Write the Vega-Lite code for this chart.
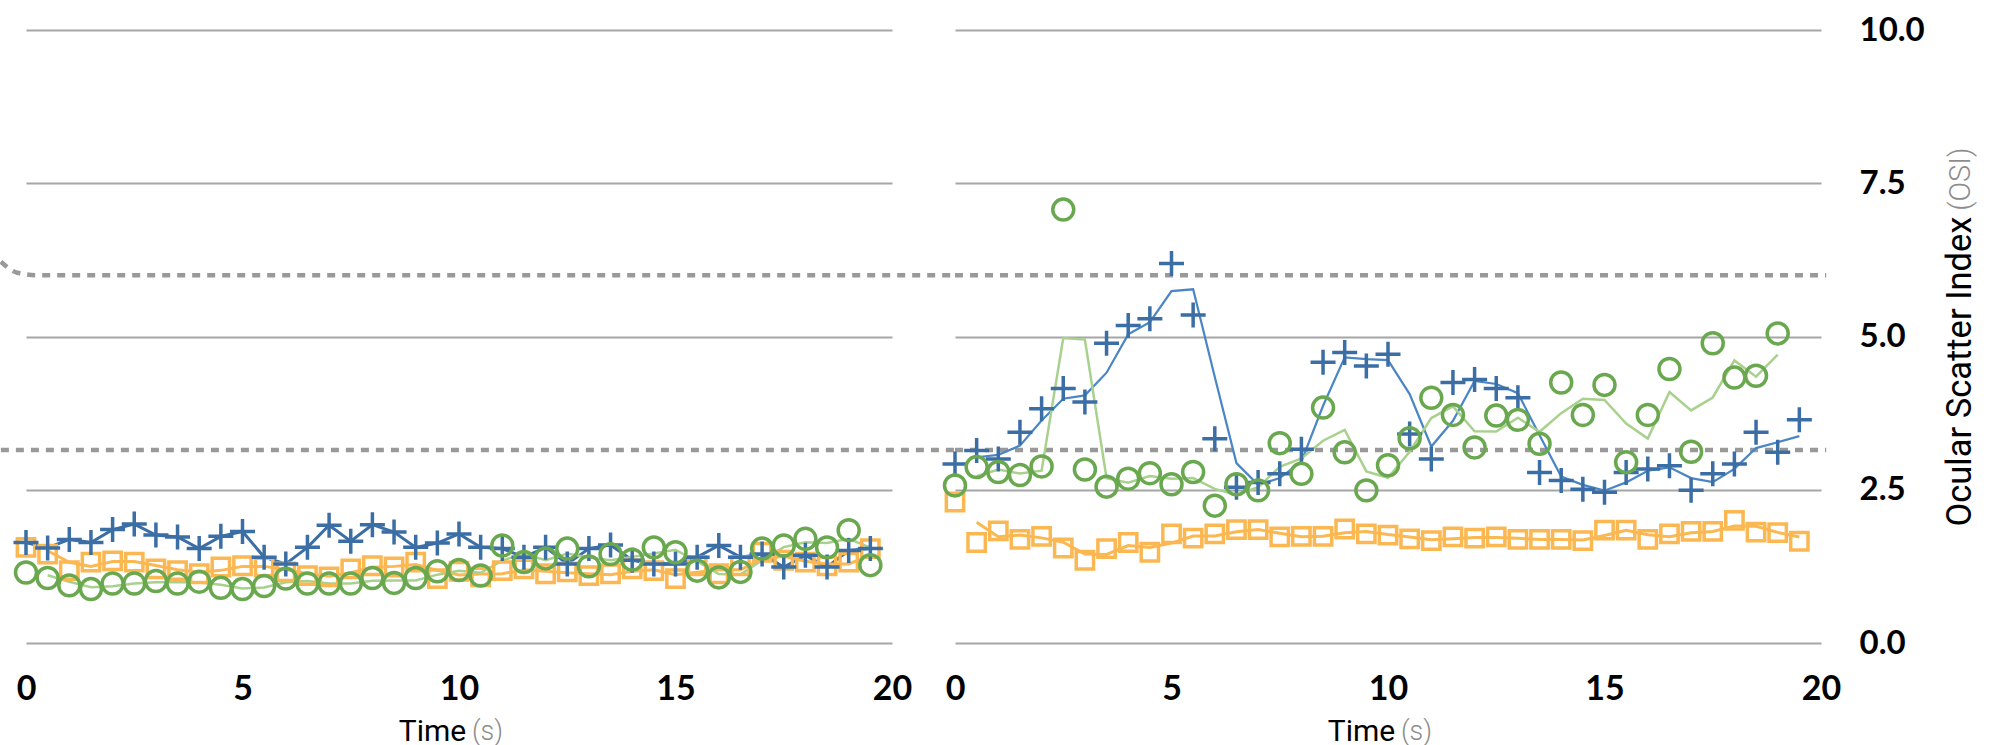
{
  "$schema": "https://vega.github.io/schema/vega-lite/v6.json",
  "autosize": {"type": "pad"},
  "padding": {"left": -9, "top": 14, "right": 0, "bottom": 0},
  "bounds": "flush",
  "spacing": 63,
  "background": "#ffffff",
  "config": {"view": {"stroke": null}},
  "datasets": {
    "ref": [
      {"p": "L", "level": "hi", "t": -0.58, "v": 6.22},
      {"p": "L", "level": "hi", "t": -0.2, "v": 6.04},
      {"p": "L", "level": "hi", "t": 0.25, "v": 6.0},
      {"p": "L", "level": "hi", "t": 21.45, "v": 6.0},
      {"p": "L", "level": "lo", "t": -0.58, "v": 3.15},
      {"p": "L", "level": "lo", "t": 21.45, "v": 3.15},
      {"p": "R", "level": "hi", "t": 0, "v": 6.0},
      {"p": "R", "level": "hi", "t": 20.12, "v": 6.0},
      {"p": "R", "level": "lo", "t": 0, "v": 3.15},
      {"p": "R", "level": "lo", "t": 20.12, "v": 3.15}
    ],
    "notes": [
      {"p": "L", "u": "(s)"},
      {"p": "R", "u": "(s)"}
    ],
    "pts": [
      {"p":"L","s":"square","t":0,"v":1.56},{"p":"L","s":"square","t":0.5,"v":1.45},{"p":"L","s":"square","t":1,"v":1.18},{"p":"L","s":"square","t":1.5,"v":1.32},{"p":"L","s":"square","t":2,"v":1.34},{"p":"L","s":"square","t":2.5,"v":1.32},{"p":"L","s":"square","t":3,"v":1.21},{"p":"L","s":"square","t":3.5,"v":1.18},{"p":"L","s":"square","t":4,"v":1.13},{"p":"L","s":"square","t":4.5,"v":1.24},
      {"p":"L","s":"square","t":5,"v":1.26},{"p":"L","s":"square","t":5.5,"v":1.24},{"p":"L","s":"square","t":6,"v":1.16},{"p":"L","s":"square","t":6.5,"v":1.10},{"p":"L","s":"square","t":7,"v":1.08},{"p":"L","s":"square","t":7.5,"v":1.21},{"p":"L","s":"square","t":8,"v":1.26},{"p":"L","s":"square","t":8.5,"v":1.24},{"p":"L","s":"square","t":9,"v":1.32},{"p":"L","s":"square","t":9.5,"v":1.05},
      {"p":"L","s":"square","t":10,"v":1.17},{"p":"L","s":"square","t":10.5,"v":1.08},{"p":"L","s":"square","t":11,"v":1.18},{"p":"L","s":"square","t":11.5,"v":1.21},{"p":"L","s":"square","t":12,"v":1.13},{"p":"L","s":"square","t":12.5,"v":1.16},{"p":"L","s":"square","t":13,"v":1.10},{"p":"L","s":"square","t":13.5,"v":1.13},{"p":"L","s":"square","t":14,"v":1.21},{"p":"L","s":"square","t":14.5,"v":1.18},
      {"p":"L","s":"square","t":15,"v":1.05},{"p":"L","s":"square","t":15.5,"v":1.26},{"p":"L","s":"square","t":16,"v":1.13},{"p":"L","s":"square","t":16.5,"v":1.26},{"p":"L","s":"square","t":17,"v":1.48},{"p":"L","s":"square","t":17.5,"v":1.35},{"p":"L","s":"square","t":18,"v":1.32},{"p":"L","s":"square","t":18.5,"v":1.26},{"p":"L","s":"square","t":19,"v":1.32},{"p":"L","s":"square","t":19.5,"v":1.54},

      {"p":"R","s":"square","t":0,"v":2.30},{"p":"R","s":"square","t":0.5,"v":1.64},{"p":"R","s":"square","t":1,"v":1.83},{"p":"R","s":"square","t":1.5,"v":1.69},{"p":"R","s":"square","t":2,"v":1.74},{"p":"R","s":"square","t":2.5,"v":1.55},{"p":"R","s":"square","t":3,"v":1.35},{"p":"R","s":"square","t":3.5,"v":1.54},{"p":"R","s":"square","t":4,"v":1.64},{"p":"R","s":"square","t":4.5,"v":1.48},
      {"p":"R","s":"square","t":5,"v":1.78},{"p":"R","s":"square","t":5.5,"v":1.71},{"p":"R","s":"square","t":6,"v":1.78},{"p":"R","s":"square","t":6.5,"v":1.85},{"p":"R","s":"square","t":7,"v":1.85},{"p":"R","s":"square","t":7.5,"v":1.73},{"p":"R","s":"square","t":8,"v":1.74},{"p":"R","s":"square","t":8.5,"v":1.74},{"p":"R","s":"square","t":9,"v":1.86},{"p":"R","s":"square","t":9.5,"v":1.78},
      {"p":"R","s":"square","t":10,"v":1.76},{"p":"R","s":"square","t":10.5,"v":1.70},{"p":"R","s":"square","t":11,"v":1.67},{"p":"R","s":"square","t":11.5,"v":1.73},{"p":"R","s":"square","t":12,"v":1.71},{"p":"R","s":"square","t":12.5,"v":1.73},{"p":"R","s":"square","t":13,"v":1.69},{"p":"R","s":"square","t":13.5,"v":1.69},{"p":"R","s":"square","t":14,"v":1.69},{"p":"R","s":"square","t":14.5,"v":1.67},
      {"p":"R","s":"square","t":15,"v":1.84},{"p":"R","s":"square","t":15.5,"v":1.84},{"p":"R","s":"square","t":16,"v":1.69},{"p":"R","s":"square","t":16.5,"v":1.78},{"p":"R","s":"square","t":17,"v":1.82},{"p":"R","s":"square","t":17.5,"v":1.82},{"p":"R","s":"square","t":18,"v":2.00},{"p":"R","s":"square","t":18.5,"v":1.81},{"p":"R","s":"square","t":19,"v":1.80},{"p":"R","s":"square","t":19.5,"v":1.66},

      {"p":"L","s":"cross","t":0,"v":1.64},{"p":"L","s":"cross","t":0.5,"v":1.55},{"p":"L","s":"cross","t":1,"v":1.69},{"p":"L","s":"cross","t":1.5,"v":1.64},{"p":"L","s":"cross","t":2,"v":1.85},{"p":"L","s":"cross","t":2.5,"v":1.94},{"p":"L","s":"cross","t":3,"v":1.76},{"p":"L","s":"cross","t":3.5,"v":1.73},{"p":"L","s":"cross","t":4,"v":1.54},{"p":"L","s":"cross","t":4.5,"v":1.74},
      {"p":"L","s":"cross","t":5,"v":1.82},{"p":"L","s":"cross","t":5.5,"v":1.40},{"p":"L","s":"cross","t":6,"v":1.29},{"p":"L","s":"cross","t":6.5,"v":1.56},{"p":"L","s":"cross","t":7,"v":1.92},{"p":"L","s":"cross","t":7.5,"v":1.66},{"p":"L","s":"cross","t":8,"v":1.93},{"p":"L","s":"cross","t":8.5,"v":1.81},{"p":"L","s":"cross","t":9,"v":1.56},{"p":"L","s":"cross","t":9.5,"v":1.63},
      {"p":"L","s":"cross","t":10,"v":1.78},{"p":"L","s":"cross","t":10.5,"v":1.56},{"p":"L","s":"cross","t":11,"v":1.54},{"p":"L","s":"cross","t":11.5,"v":1.40},{"p":"L","s":"cross","t":12,"v":1.56},{"p":"L","s":"cross","t":12.5,"v":1.29},{"p":"L","s":"cross","t":13,"v":1.54},{"p":"L","s":"cross","t":13.5,"v":1.60},{"p":"L","s":"cross","t":14,"v":1.35},{"p":"L","s":"cross","t":14.5,"v":1.29},
      {"p":"L","s":"cross","t":15,"v":1.29},{"p":"L","s":"cross","t":15.5,"v":1.40},{"p":"L","s":"cross","t":16,"v":1.59},{"p":"L","s":"cross","t":16.5,"v":1.40},{"p":"L","s":"cross","t":17,"v":1.45},{"p":"L","s":"cross","t":17.5,"v":1.24},{"p":"L","s":"cross","t":18,"v":1.43},{"p":"L","s":"cross","t":18.5,"v":1.24},{"p":"L","s":"cross","t":19,"v":1.51},{"p":"L","s":"cross","t":19.5,"v":1.54},

      {"p":"R","s":"cross","t":0,"v":2.92},{"p":"R","s":"cross","t":0.5,"v":3.14},{"p":"R","s":"cross","t":1,"v":3.00},{"p":"R","s":"cross","t":1.5,"v":3.44},{"p":"R","s":"cross","t":2,"v":3.82},{"p":"R","s":"cross","t":2.5,"v":4.15},{"p":"R","s":"cross","t":3,"v":3.93},{"p":"R","s":"cross","t":3.5,"v":4.89},{"p":"R","s":"cross","t":4,"v":5.18},{"p":"R","s":"cross","t":4.5,"v":5.29},
      {"p":"R","s":"cross","t":5,"v":6.19},{"p":"R","s":"cross","t":5.5,"v":5.35},{"p":"R","s":"cross","t":6,"v":3.33},{"p":"R","s":"cross","t":6.5,"v":2.54},{"p":"R","s":"cross","t":7,"v":2.62},{"p":"R","s":"cross","t":7.5,"v":2.76},{"p":"R","s":"cross","t":8,"v":3.16},{"p":"R","s":"cross","t":8.5,"v":4.58},{"p":"R","s":"cross","t":9,"v":4.74},{"p":"R","s":"cross","t":9.5,"v":4.52},
      {"p":"R","s":"cross","t":10,"v":4.71},{"p":"R","s":"cross","t":10.5,"v":3.41},{"p":"R","s":"cross","t":11,"v":3.00},{"p":"R","s":"cross","t":11.5,"v":4.25},{"p":"R","s":"cross","t":12,"v":4.30},{"p":"R","s":"cross","t":12.5,"v":4.15},{"p":"R","s":"cross","t":13,"v":4.00},{"p":"R","s":"cross","t":13.5,"v":2.78},{"p":"R","s":"cross","t":14,"v":2.65},{"p":"R","s":"cross","t":14.5,"v":2.51},
      {"p":"R","s":"cross","t":15,"v":2.46},{"p":"R","s":"cross","t":15.5,"v":2.78},{"p":"R","s":"cross","t":16,"v":2.84},{"p":"R","s":"cross","t":16.5,"v":2.89},{"p":"R","s":"cross","t":17,"v":2.49},{"p":"R","s":"cross","t":17.5,"v":2.76},{"p":"R","s":"cross","t":18,"v":2.92},{"p":"R","s":"cross","t":18.5,"v":3.44},{"p":"R","s":"cross","t":19,"v":3.11},{"p":"R","s":"cross","t":19.5,"v":3.64},

      {"p":"L","s":"circle","t":0,"v":1.15},{"p":"L","s":"circle","t":0.5,"v":1.06},{"p":"L","s":"circle","t":1,"v":0.94},{"p":"L","s":"circle","t":1.5,"v":0.88},{"p":"L","s":"circle","t":2,"v":0.97},{"p":"L","s":"circle","t":2.5,"v":0.97},{"p":"L","s":"circle","t":3,"v":1.01},{"p":"L","s":"circle","t":3.5,"v":0.97},{"p":"L","s":"circle","t":4,"v":1.00},{"p":"L","s":"circle","t":4.5,"v":0.90},
      {"p":"L","s":"circle","t":5,"v":0.88},{"p":"L","s":"circle","t":5.5,"v":0.93},{"p":"L","s":"circle","t":6,"v":1.05},{"p":"L","s":"circle","t":6.5,"v":0.97},{"p":"L","s":"circle","t":7,"v":0.97},{"p":"L","s":"circle","t":7.5,"v":0.97},{"p":"L","s":"circle","t":8,"v":1.06},{"p":"L","s":"circle","t":8.5,"v":0.98},{"p":"L","s":"circle","t":9,"v":1.06},{"p":"L","s":"circle","t":9.5,"v":1.17},
      {"p":"L","s":"circle","t":10,"v":1.19},{"p":"L","s":"circle","t":10.5,"v":1.10},{"p":"L","s":"circle","t":11,"v":1.59},{"p":"L","s":"circle","t":11.5,"v":1.32},{"p":"L","s":"circle","t":12,"v":1.38},{"p":"L","s":"circle","t":12.5,"v":1.54},{"p":"L","s":"circle","t":13,"v":1.25},{"p":"L","s":"circle","t":13.5,"v":1.45},{"p":"L","s":"circle","t":14,"v":1.36},{"p":"L","s":"circle","t":14.5,"v":1.56},
      {"p":"L","s":"circle","t":15,"v":1.48},{"p":"L","s":"circle","t":15.5,"v":1.18},{"p":"L","s":"circle","t":16,"v":1.07},{"p":"L","s":"circle","t":16.5,"v":1.16},{"p":"L","s":"circle","t":17,"v":1.54},{"p":"L","s":"circle","t":17.5,"v":1.59},{"p":"L","s":"circle","t":18,"v":1.70},{"p":"L","s":"circle","t":18.5,"v":1.56},{"p":"L","s":"circle","t":19,"v":1.84},{"p":"L","s":"circle","t":19.5,"v":1.27},

      {"p":"R","s":"circle","t":0,"v":2.57},{"p":"R","s":"circle","t":0.5,"v":2.87},{"p":"R","s":"circle","t":1,"v":2.79},{"p":"R","s":"circle","t":1.5,"v":2.74},{"p":"R","s":"circle","t":2,"v":2.88},{"p":"R","s":"circle","t":2.5,"v":7.07},{"p":"R","s":"circle","t":3,"v":2.83},{"p":"R","s":"circle","t":3.5,"v":2.55},{"p":"R","s":"circle","t":4,"v":2.68},{"p":"R","s":"circle","t":4.5,"v":2.77},
      {"p":"R","s":"circle","t":5,"v":2.59},{"p":"R","s":"circle","t":5.5,"v":2.79},{"p":"R","s":"circle","t":6,"v":2.24},{"p":"R","s":"circle","t":6.5,"v":2.59},{"p":"R","s":"circle","t":7,"v":2.49},{"p":"R","s":"circle","t":7.5,"v":3.26},{"p":"R","s":"circle","t":8,"v":2.76},{"p":"R","s":"circle","t":8.5,"v":3.84},{"p":"R","s":"circle","t":9,"v":3.11},{"p":"R","s":"circle","t":9.5,"v":2.49},
      {"p":"R","s":"circle","t":10,"v":2.90},{"p":"R","s":"circle","t":10.5,"v":3.34},{"p":"R","s":"circle","t":11,"v":4.00},{"p":"R","s":"circle","t":11.5,"v":3.72},{"p":"R","s":"circle","t":12,"v":3.19},{"p":"R","s":"circle","t":12.5,"v":3.71},{"p":"R","s":"circle","t":13,"v":3.64},{"p":"R","s":"circle","t":13.5,"v":3.25},{"p":"R","s":"circle","t":14,"v":4.25},{"p":"R","s":"circle","t":14.5,"v":3.72},
      {"p":"R","s":"circle","t":15,"v":4.21},{"p":"R","s":"circle","t":15.5,"v":2.95},{"p":"R","s":"circle","t":16,"v":3.72},{"p":"R","s":"circle","t":16.5,"v":4.47},{"p":"R","s":"circle","t":17,"v":3.12},{"p":"R","s":"circle","t":17.5,"v":4.89},{"p":"R","s":"circle","t":18,"v":4.33},{"p":"R","s":"circle","t":18.5,"v":4.36},{"p":"R","s":"circle","t":19,"v":5.05}
    ]
  },
  "hconcat": [
    {
      "width": 866,
      "height": 613,
      "layer": [
        {
          "encoding": {
            "x": {"field": "t", "type": "quantitative", "scale": {"domain": [0, 20], "nice": false, "zero": false},
              "axis": {"values": [0, 5, 10, 15, 20], "domain": false, "ticks": false, "grid": false, "labelFlush": false, "labelOverlap": false,
                "labelFont": "Lato", "labelFontWeight": "bold", "labelFontSize": 34, "labelColor": "#000000", "labelPadding": 29,
                "title": "Time", "titleFont": "Roboto", "titleFontWeight": "normal", "titleFontSize": 30, "titleColor": "#000000",
                "titleX": 406, "titleY": 97, "titleBaseline": "alphabetic", "titleAlign": "center", "titleAnchor": null}},
            "y": {"field": "v", "type": "quantitative", "scale": {"domain": [0, 10], "nice": false},
              "axis": {"values": [0, 2.5, 5, 7.5, 10], "labels": false, "ticks": false, "domain": false, "grid": true, "gridColor": "#a6a6a6", "gridWidth": 2, "title": null}}
          },
          "layer": [
            {"data": {"name": "ref"}, "transform": [{"filter": "datum.p == 'L'"}],
             "mark": {"type": "line", "interpolate": "monotone", "strokeDash": [8, 7], "strokeWidth": 4.5, "color": "#999999"},
             "encoding": {"detail": {"field": "level"}}},
            {"data": {"name": "pts"}, "transform": [{"filter": "datum.p == 'L' && datum.s == 'cross'"}],
             "mark": {"type": "line", "color": "#3b6ea5", "strokeWidth": 3},
             "encoding": {}},
            {"data": {"name": "pts"}, "transform": [
                {"filter": "datum.p == 'L' && datum.s != 'cross'"},
                {"window": [{"op": "mean", "field": "v", "as": "ma"}, {"op": "row_number", "as": "rn"}], "frame": [-1, 0], "groupby": ["s"], "sort": [{"field": "t"}]},
                {"filter": "datum.rn > 1"}],
             "mark": {"type": "line"},
             "encoding": {
               "y": {"field": "ma", "type": "quantitative"},
               "stroke": {"field": "s", "type": "nominal", "scale": {"type": "ordinal", "domain": ["square", "cross", "circle"], "range": ["#fbb751", "#4a85c5", "#a9d18e"]}, "legend": null},
               "strokeWidth": {"field": "s", "type": "nominal", "scale": {"type": "ordinal", "domain": ["square", "cross", "circle"], "range": [3, 2.2, 2.5]}, "legend": null}}},
            {"data": {"name": "pts"}, "transform": [{"filter": "datum.p == 'L'"}],
             "mark": {"type": "point", "filled": false, "strokeWidth": 3.5, "opacity": 1},
             "encoding": {
               "color": {"field": "s", "type": "nominal", "scale": {"type": "ordinal", "domain": ["square", "cross", "circle"], "range": ["#fbb751", "#3b6ea5", "#6aa84f"]}, "legend": null},
               "shape": {"field": "s", "type": "nominal", "scale": {"type": "ordinal", "domain": ["square", "cross", "circle"], "range": ["square", "M-1,0H1M0,-1V1", "circle"]}, "legend": null},
               "size": {"field": "s", "type": "nominal", "scale": {"type": "ordinal", "domain": ["square", "cross", "circle"], "range": [300, 625, 440]}, "legend": null}}}
          ]
        },
        {"data": {"name": "notes"}, "transform": [{"filter": "datum.p == 'L'"}],
         "mark": {"type": "text", "font": "Roboto", "fontWeight": 300, "fontSize": 27, "fill": "#8c8c8c", "align": "left", "baseline": "alphabetic", "clip": false},
         "encoding": {"x": {"datum": 10.3, "type": "quantitative"}, "y": {"datum": -1.58, "type": "quantitative"}, "text": {"field": "u", "type": "nominal"}}}
      ]
    },
    {
      "width": 866,
      "height": 613,
      "layer": [
        {
          "encoding": {
            "x": {"field": "t", "type": "quantitative", "scale": {"domain": [0, 20], "nice": false, "zero": false},
              "axis": {"values": [0, 5, 10, 15, 20], "domain": false, "ticks": false, "grid": false, "labelFlush": false, "labelOverlap": false,
                "labelFont": "Lato", "labelFontWeight": "bold", "labelFontSize": 34, "labelColor": "#000000", "labelPadding": 29,
                "title": "Time", "titleFont": "Roboto", "titleFontWeight": "normal", "titleFontSize": 30, "titleColor": "#000000",
                "titleX": 406, "titleY": 97, "titleBaseline": "alphabetic", "titleAlign": "center", "titleAnchor": null}},
            "y": {"field": "v", "type": "quantitative", "scale": {"domain": [0, 10], "nice": false},
              "axis": {"orient": "right", "values": [0, 2.5, 5, 7.5, 10], "format": ".1f", "ticks": false, "domain": false, "grid": true, "gridColor": "#a6a6a6", "gridWidth": 2,
                "labelFont": "Lato", "labelFontWeight": "bold", "labelFontSize": 33, "labelColor": "#000000", "labelPadding": 38, "labelAlign": "left", "labelBaseline": "middle",
                "title": "Ocular Scatter Index", "titleFont": "Roboto", "titleFontWeight": "normal", "titleFontSize": 34.5, "titleColor": "#000000",
                "titleAngle": 270, "titleX": 149, "titleY": 496, "titleAlign": "left", "titleBaseline": "alphabetic", "titleAnchor": null}}
          },
          "layer": [
            {"data": {"name": "ref"}, "transform": [{"filter": "datum.p == 'R'"}],
             "mark": {"type": "line", "strokeDash": [8, 7], "strokeWidth": 4.5, "color": "#999999"},
             "encoding": {"detail": {"field": "level"}}},
            {"data": {"name": "pts"}, "transform": [
                {"filter": "datum.p == 'R'"},
                {"window": [{"op": "mean", "field": "v", "as": "ma"}, {"op": "row_number", "as": "rn"}], "frame": [-1, 0], "groupby": ["s"], "sort": [{"field": "t"}]},
                {"filter": "datum.rn > 1"}],
             "mark": {"type": "line"},
             "encoding": {
               "y": {"field": "ma", "type": "quantitative"},
               "stroke": {"field": "s", "type": "nominal", "scale": {"type": "ordinal", "domain": ["square", "cross", "circle"], "range": ["#fbb751", "#4a85c5", "#a9d18e"]}, "legend": null},
               "strokeWidth": {"field": "s", "type": "nominal", "scale": {"type": "ordinal", "domain": ["square", "cross", "circle"], "range": [3, 2.2, 2.5]}, "legend": null}}},
            {"data": {"name": "pts"}, "transform": [{"filter": "datum.p == 'R'"}],
             "mark": {"type": "point", "filled": false, "strokeWidth": 3.5, "opacity": 1},
             "encoding": {
               "color": {"field": "s", "type": "nominal", "scale": {"type": "ordinal", "domain": ["square", "cross", "circle"], "range": ["#fbb751", "#3b6ea5", "#6aa84f"]}, "legend": null},
               "shape": {"field": "s", "type": "nominal", "scale": {"type": "ordinal", "domain": ["square", "cross", "circle"], "range": ["square", "M-1,0H1M0,-1V1", "circle"]}, "legend": null},
               "size": {"field": "s", "type": "nominal", "scale": {"type": "ordinal", "domain": ["square", "cross", "circle"], "range": [300, 625, 440]}, "legend": null}}}
          ]
        },
        {"data": {"name": "notes"}, "transform": [{"filter": "datum.p == 'R'"}],
         "mark": {"type": "text", "font": "Roboto", "fontWeight": 300, "fontSize": 27, "fill": "#8c8c8c", "align": "left", "baseline": "alphabetic", "clip": false},
         "encoding": {"x": {"datum": 10.3, "type": "quantitative"}, "y": {"datum": -1.58, "type": "quantitative"}, "text": {"field": "u", "type": "nominal"}}},
        {"data": {"values": [{"u": "(OSI)"}]},
         "mark": {"type": "text", "font": "Roboto", "fontWeight": 300, "fontSize": 29, "fill": "#8c8c8c", "align": "left", "baseline": "alphabetic", "angle": 270, "clip": false},
         "encoding": {"x": {"datum": 23.44, "type": "quantitative"}, "y": {"datum": 7.05, "type": "quantitative"}, "text": {"field": "u", "type": "nominal"}}}
      ]
    }
  ]
}
